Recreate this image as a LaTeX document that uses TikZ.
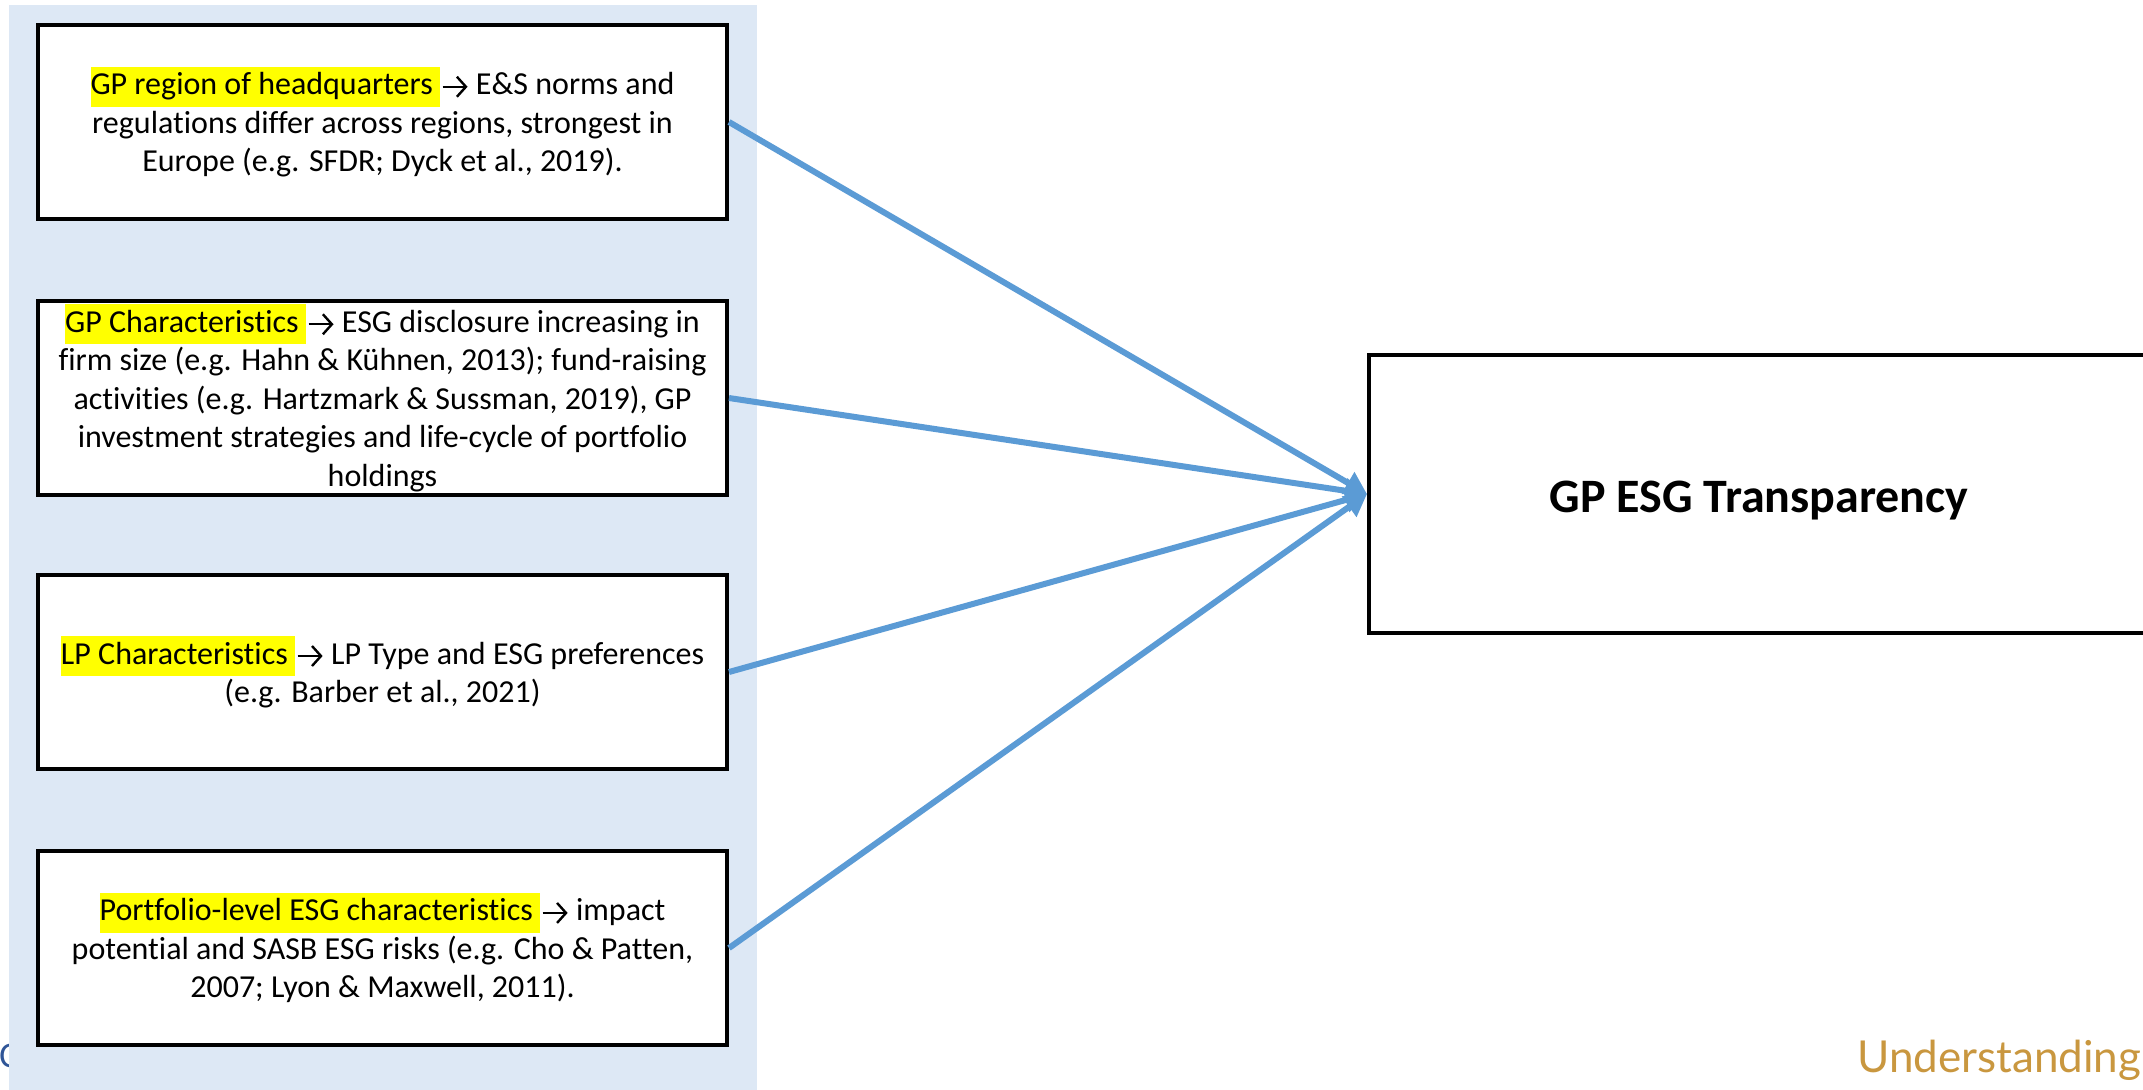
\documentclass[tikz,border=0pt]{standalone}
\usepackage{fontspec}
\setmainfont{Carlito}[Ligatures=NoCommon]
\newfontfamily\goldfont{Lato}
\usetikzlibrary{arrows.meta}
\definecolor{panelblue}{HTML}{DDE8F5}
\definecolor{linkblue}{HTML}{5B9BD5}
\definecolor{hlyellow}{HTML}{FFFF00}
\definecolor{goldtext}{HTML}{C9973F}
\definecolor{navyfrag}{HTML}{2F5597}
\newcommand{\hlt}[1]{{\setlength{\fboxsep}{0pt}\colorbox{hlyellow}{\rule[-6pt]{0pt}{20pt}#1\hspace{3.5pt}}}}
\newcommand{\ra}{\hspace{0.8pt}\tikz[baseline=-4pt]\draw[line width=1.2pt,-{Straight Barb[length=4.5pt,width=10pt,line width=1.2pt]}] (0,0) -- (12.5pt,0);}
\begin{document}
\begin{tikzpicture}[x=0.5pt,y=-0.5pt,
  factor/.style={draw=black, line width=2pt, fill=white, minimum width=344.5pt,
    minimum height=97pt, align=center, inner sep=0pt,
    font=\fontsize{16}{19.25}\selectfont},
  link/.style={draw=linkblue, line width=3pt, -{Triangle[length=11pt,width=12pt]}},
]
\useasboundingbox (0,0) rectangle (2143,1089);
\fill[white] (0,0) rectangle (2143,1089);
\node[anchor=base west, text=navyfrag, font=\fontsize{18}{20}\selectfont, inner sep=0pt] (frag) at (-1,1067) {C};
\fill[panelblue] (9,5) rectangle (757,1095);

\node[factor] (f1) at (382.5,122) {\hlt{GP region of headquarters}\ra{} E\&S norms and\\
regulations differ across regions, strongest in\\
Europe (e.g. SFDR; Dyck et al., 2019).};

\node[factor] (f2) at (382.5,398) {\hlt{GP Characteristics}\ra{} ESG disclosure increasing in\\
firm size (e.g. Hahn \& Kühnen, 2013); fund-raising\\
activities (e.g. Hartzmark \& Sussman, 2019), GP\\
investment strategies and life-cycle of portfolio\\
holdings};

\node[factor] (f3) at (382.5,672) {\hlt{LP Characteristics}\ra{} LP Type and ESG preferences\\
(e.g. Barber et al., 2021)};

\node[factor] (f4) at (382.5,948) {\hlt{Portfolio-level ESG characteristics}\ra{} impact\\
potential and SASB ESG risks (e.g. Cho \& Patten,\\
2007; Lyon \& Maxwell, 2011).};

\node[draw=black, line width=2pt, fill=white, minimum width=390pt, minimum height=139pt,
  inner sep=0pt, text height=20pt, text depth=2pt,
  font=\fontsize{24}{28}\selectfont\bfseries] (gp) at (1759,494) {GP ESG Transparency};

\draw[link] (f1.east) -- (gp.west);
\draw[link] (f2.east) -- (gp.west);
\draw[link] (f3.east) -- (gp.west);
\draw[link] (f4.east) -- (gp.west);

\node[anchor=base west, text=goldtext, inner sep=0pt,
  font=\goldfont\fontsize{22}{26}\selectfont] (brand) at (1857,1072) {Understanding};
\end{tikzpicture}
\end{document}
